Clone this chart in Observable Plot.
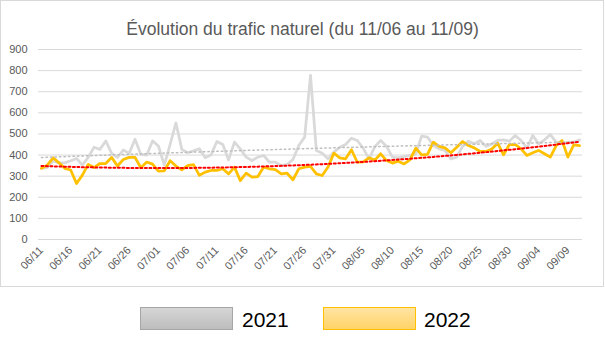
<!DOCTYPE html>
<html><head><meta charset="utf-8">
<script src="https://cdn.jsdelivr.net/npm/d3@7"></script>
<script src="https://cdn.jsdelivr.net/npm/@observablehq/plot@0.6"></script>
<style>
body{margin:0;width:605px;height:337px;position:relative;background:#fff;font-family:"Liberation Sans",Arial,sans-serif;overflow:hidden}
#frame{position:absolute;left:0;top:0;width:602px;height:285px;border:1px solid #d9d9d9}
#title{position:absolute;left:0;top:19px;width:605px;text-align:center;font-size:17.5px;line-height:20px;color:#595959;white-space:nowrap}
#chart{position:absolute;left:0;top:40px}
.sw{position:absolute;top:307px;width:91px;height:21px}
.lt{position:absolute;top:308px;font-size:21px;line-height:24px;color:#000}
</style></head>
<body>
<div id="frame"></div>
<div id="title">Évolution du trafic naturel (du 11/06 au 11/09)</div>
<div id="chart"></div>
<div class="sw" style="left:140px;background:linear-gradient(#d6d6d6,#bdbdbd);border:1px solid #a6a6a6"></div>
<div class="lt" style="left:242px">2021</div>
<div class="sw" style="left:323px;background:linear-gradient(#ffe4a3,#ffd366);border:1px solid #ffc000"></div>
<div class="lt" style="left:424px">2022</div>
<script>
// categories: one per day from 06/11 to 09/11
const dates = d3.utcDay.range(new Date(Date.UTC(2022,5,11)), new Date(Date.UTC(2022,8,12))).map(d3.utcFormat("%m/%d"));
const tickLabels = ["06/11","06/16","06/21","06/26","07/01","07/06","07/11","07/16","07/21","07/26","07/31","08/05","08/10","08/15","08/20","08/25","08/30","09/04","09/09"];
const yTicks = [0,100,200,300,400,500,600,700,800,900];
const v2021 = [337,341,373,363,363,373,384,352,389,437,427,467,408,389,424,408,475,403,400,467,
443,352,450,552,427,411,420,430,387,401,464,450,377,461,429,390,374,390,398,366,
366,350,355,379,445,485,777,422,409,382,414,437,450,480,469,433,382,440,469,441,
390,387,393,398,406,490,485,445,429,422,382,390,441,466,453,469,441,453,469,472,
466,493,469,433,493,453,472,497,461,453,461,461,472];
const v2022 = [337,352,387,363,337,329,265,305,356,341,360,360,389,348,379,389,389,340,367,357,
324,325,373,348,330,350,355,304,319,327,327,335,311,343,279,314,295,298,343,335,
331,311,314,283,335,343,346,311,303,343,409,387,382,425,366,368,387,376,406,374,
362,371,358,377,433,401,403,461,441,434,411,437,464,445,434,417,417,429,456,401,
450,450,429,398,411,422,406,390,445,469,390,448,445];

// polynomial (order 2) trendline, least squares, as in the spreadsheet
function quadTrend(ys) {
  let S = [0,0,0,0,0], T = [0,0,0];
  ys.forEach((y, x) => {
    let p = 1;
    for (let k = 0; k < 5; k++) { S[k] += p; if (k < 3) T[k] += p * y; p *= x; }
  });
  const A = [[S[0],S[1],S[2],T[0]],[S[1],S[2],S[3],T[1]],[S[2],S[3],S[4],T[2]]];
  for (let c = 0; c < 3; c++) {
    for (let r = c + 1; r < 3; r++) {
      const f = A[r][c] / A[c][c];
      for (let k = c; k < 4; k++) A[r][k] -= f * A[c][k];
    }
  }
  const b = [0,0,0];
  for (let r = 2; r >= 0; r--) {
    let s = A[r][3];
    for (let k = r + 1; k < 3; k++) s -= A[r][k] * b[k];
    b[r] = s / A[r][r];
  }
  return ys.map((_, x) => ({i: x, v: b[0] + b[1] * x + b[2] * x * x}));
}

const rows21 = dates.map((d,i)=>({i, date:d, v:v2021[i]}));
const rows22 = dates.map((d,i)=>({i, date:d, v:v2022[i]}));
const tickIdx = tickLabels.map(t => dates.indexOf(t));

const chart = Plot.plot({
  width: 605, height: 246,
  marginTop: 9, marginBottom: 47, marginLeft: 38, marginRight: 23,
  style: {fontFamily: "Liberation Sans, Arial, sans-serif", fontSize: "11px", color: "#595959", background: "transparent", overflow: "visible"},
  x: {type: "linear", domain: [-0.5, dates.length - 0.5]},
  y: {domain: [0, 900]},
  marks: [
    Plot.gridY(yTicks, {stroke: "#d9d9d9", strokeOpacity: 1}),
    Plot.axisY(yTicks, {tickSize: 0, tickPadding: 11, label: null, tickFormat: d => String(d)}),
    Plot.axisX(tickIdx, {tickSize: 0, tickRotate: -45, tickPadding: 9, label: null, tickFormat: i => tickLabels[tickIdx.indexOf(i)]}),
    Plot.line(rows21, {x: "i", y: "v", stroke: "#d9d9d9", strokeWidth: 2.75}),
    Plot.line(rows22, {x: "i", y: "v", stroke: "#ffc000", strokeWidth: 2.75}),
    Plot.line(quadTrend(v2021), {x: "i", y: "v", stroke: "#bfbfbf", strokeWidth: 1.5, strokeDasharray: "1.5,3"}),
    Plot.line(quadTrend(v2022), {x: "i", y: "v", stroke: "#ff0000", strokeWidth: 2, strokeDasharray: "2,2.5"})
  ]
});
document.getElementById("chart").appendChild(chart);
</script>
</body></html>
